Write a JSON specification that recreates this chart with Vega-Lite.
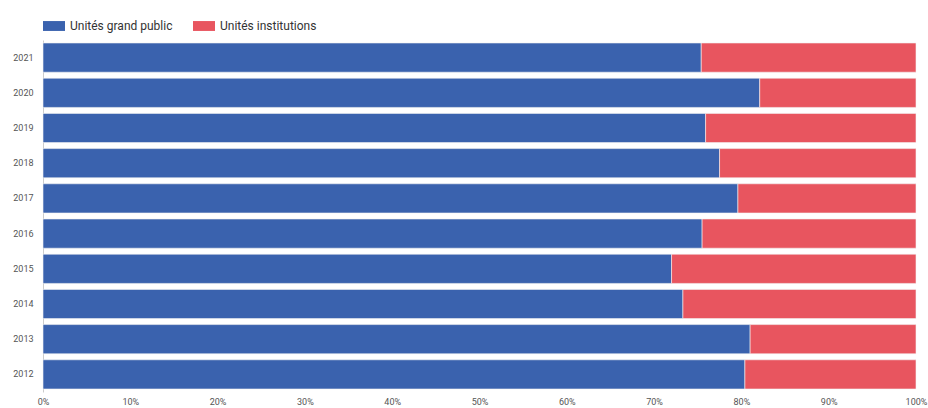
{
  "$schema": "https://vega.github.io/schema/vega-lite/v6.json",
  "autosize": "none",
  "width": 873,
  "height": 352,
  "padding": {"left": 43, "top": 40, "right": 12, "bottom": 16},
  "background": "white",
  "data": {"values": [
    {"annee": "2021", "type": "Unités grand public", "part": 75.4},
    {"annee": "2021", "type": "Unités institutions", "part": 24.6},
    {"annee": "2020", "type": "Unités grand public", "part": 82.1},
    {"annee": "2020", "type": "Unités institutions", "part": 17.9},
    {"annee": "2019", "type": "Unités grand public", "part": 75.9},
    {"annee": "2019", "type": "Unités institutions", "part": 24.1},
    {"annee": "2018", "type": "Unités grand public", "part": 77.5},
    {"annee": "2018", "type": "Unités institutions", "part": 22.5},
    {"annee": "2017", "type": "Unités grand public", "part": 79.6},
    {"annee": "2017", "type": "Unités institutions", "part": 20.4},
    {"annee": "2016", "type": "Unités grand public", "part": 75.5},
    {"annee": "2016", "type": "Unités institutions", "part": 24.5},
    {"annee": "2015", "type": "Unités grand public", "part": 72.0},
    {"annee": "2015", "type": "Unités institutions", "part": 28.0},
    {"annee": "2014", "type": "Unités grand public", "part": 73.3},
    {"annee": "2014", "type": "Unités institutions", "part": 26.7},
    {"annee": "2013", "type": "Unités grand public", "part": 81.0},
    {"annee": "2013", "type": "Unités institutions", "part": 19.0},
    {"annee": "2012", "type": "Unités grand public", "part": 80.4},
    {"annee": "2012", "type": "Unités institutions", "part": 19.6}
  ]},
  "mark": {"type": "bar", "stroke": "#f4f4f4", "strokeWidth": 0.6},
  "encoding": {
    "y": {
      "field": "annee", "type": "ordinal", "sort": "descending",
      "scale": {"paddingInner": 0.17, "paddingOuter": 0.085},
      "axis": {"title": null, "ticks": false, "domain": true, "domainColor": "#cccccc", "labelFont": "Roboto", "labelFontSize": 9, "labelColor": "#555555", "labelPadding": 10}
    },
    "x": {
      "field": "part", "type": "quantitative", "stack": "normalize",
      "scale": {"domain": [0, 1]},
      "axis": {"title": null, "format": ".0%", "values": [0, 0.1, 0.2, 0.3, 0.4, 0.5, 0.6, 0.7, 0.8, 0.9, 1], "grid": false, "domain": false, "ticks": false, "labelFont": "Roboto", "labelFontSize": 9, "labelColor": "#555555", "labelPadding": 5, "labelFlush": false}
    },
    "color": {
      "field": "type", "type": "nominal",
      "scale": {"domain": ["Unités grand public", "Unités institutions"], "range": ["#3a62ae", "#e8555f"]},
      "legend": {"title": null, "orient": "top", "direction": "horizontal", "offset": 8, "symbolType": "M-1,-0.45H1V0.45H-1Z", "symbolSize": 484, "symbolStrokeWidth": 0, "labelFont": "Roboto", "labelFontSize": 12, "labelColor": "#333333", "columnPadding": 20, "labelOffset": 5}
    },
    "order": {"field": "type", "sort": "ascending"}
  },
  "config": {"view": {"stroke": null}}
}
